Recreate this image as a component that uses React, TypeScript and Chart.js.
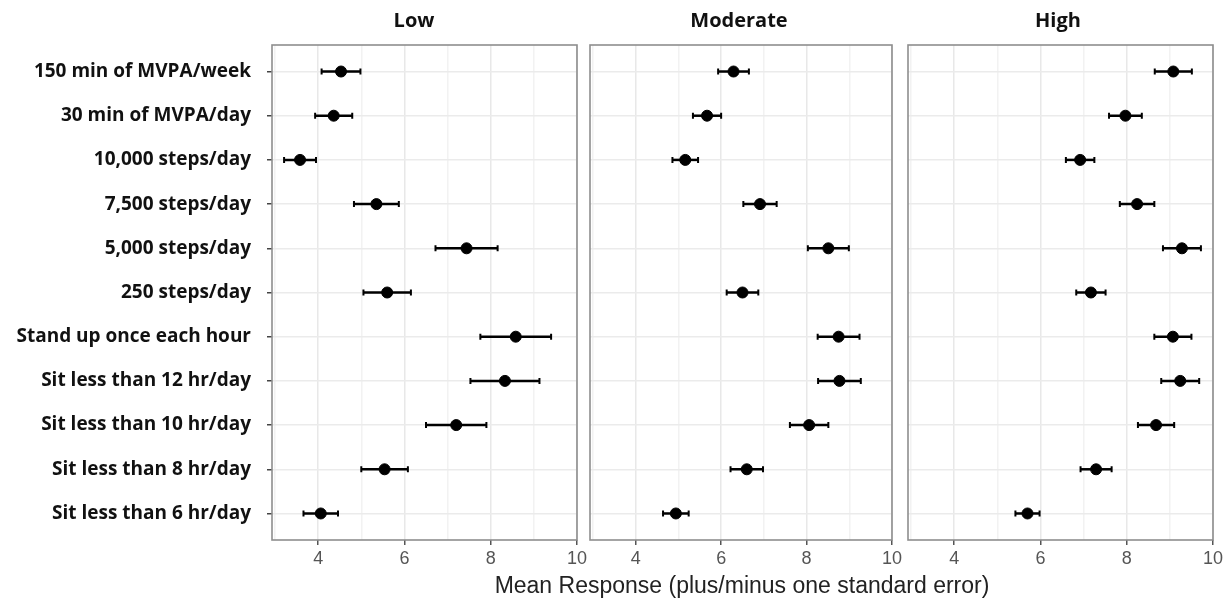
import React, { useEffect, useRef } from 'react';
import { Chart, registerables } from 'chart.js';
Chart.register(...registerables);

const categories = [
  '150 min of MVPA/week',
  '30 min of MVPA/day',
  '10,000 steps/day',
  '7,500 steps/day',
  '5,000 steps/day',
  '250 steps/day',
  'Stand up once each hour',
  'Sit less than 12 hr/day',
  'Sit less than 10 hr/day',
  'Sit less than 8 hr/day',
  'Sit less than 6 hr/day',
];
const panelTitles = ['Low', 'Moderate', 'High'];
const lowMean = [4.53, 4.36, 3.58, 5.35, 7.44, 5.6, 8.58, 8.33, 7.2, 5.54, 4.06];
const lowSE = [0.45, 0.43, 0.37, 0.52, 0.72, 0.55, 0.82, 0.8, 0.7, 0.54, 0.4];
const modMean = [6.29, 5.67, 5.16, 6.91, 8.51, 6.5, 8.75, 8.77, 8.06, 6.6, 4.94];
const modSE = [0.36, 0.33, 0.3, 0.39, 0.48, 0.37, 0.49, 0.5, 0.45, 0.38, 0.3];
const highMean = [9.08, 7.97, 6.92, 8.24, 9.28, 7.17, 9.07, 9.24, 8.68, 7.29, 5.7];
const highSE = [0.43, 0.38, 0.33, 0.4, 0.44, 0.34, 0.43, 0.44, 0.42, 0.36, 0.28];
const xGridValues = [3, 4, 5, 6, 7, 8, 9, 10];
const xLabelValues = [4, 6, 8, 10];
const xAxisTitle = 'Mean Response (plus/minus one standard error)';

const SANS = 'Arial';
const BOLD = "'Open Sans', sans-serif";

const panels = [
  { title: panelTitles[0], mean: lowMean, se: lowSE, left: 0, width: 590, padL: 0, padR: 13, showY: true, titleCx: 414 },
  { title: panelTitles[1], mean: modMean, se: modSE, left: 580, width: 325, padL: 10, padR: 10, showY: false, titleCx: 739 },
  { title: panelTitles[2], mean: highMean, se: highSE, left: 898, width: 329, padL: 10, padR: 14, showY: false, titleCx: 1058 },
];

const errorBarPlugin = {
  id: 'errorBars',
  beforeDatasetsDraw(chart: any) {
    const { ctx, scales } = chart;
    const x = scales.x;
    const y = scales.y;
    const ds = chart.data.datasets[0];
    ctx.save();
    ctx.strokeStyle = '#000';
    ds.data.forEach((p: any) => {
      const x0 = x.getPixelForValue(p.x - p.se);
      const x1 = x.getPixelForValue(p.x + p.se);
      const py = y.getPixelForValue(p.y);
      ctx.lineWidth = 2.5;
      ctx.beginPath();
      ctx.moveTo(x0, py);
      ctx.lineTo(x1, py);
      ctx.stroke();
      ctx.lineWidth = 2;
      ctx.beginPath();
      ctx.moveTo(x0, py - 3);
      ctx.lineTo(x0, py + 3);
      ctx.moveTo(x1, py - 3);
      ctx.lineTo(x1, py + 3);
      ctx.stroke();
    });
    ctx.restore();
  },
};

const borderPlugin = {
  id: 'panelBorder',
  afterDraw(chart: any) {
    const { ctx, chartArea } = chart;
    ctx.save();
    ctx.strokeStyle = '#8e8e8e';
    ctx.lineWidth = 1.6;
    ctx.strokeRect(chartArea.left, chartArea.top, chartArea.right - chartArea.left, chartArea.bottom - chartArea.top);
    ctx.restore();
  },
};

function Panel({ p }: { p: any }) {
  const ref = useRef<HTMLCanvasElement>(null);
  useEffect(() => {
    if (!ref.current) return;
    const data = p.mean.map((m: number, i: number) => ({ x: m, y: i, se: p.se[i] }));
    const chart = new Chart(ref.current, {
      type: 'scatter',
      data: {
        datasets: [
          {
            data,
            backgroundColor: '#000',
            borderColor: '#000',
            pointRadius: 5.5,
            pointHoverRadius: 5.5,
          },
        ],
      },
      plugins: [errorBarPlugin, borderPlugin],
      options: {
        animation: false,
        responsive: false,
        maintainAspectRatio: false,
        events: [],
        layout: { padding: { top: 45, bottom: 0, left: p.padL, right: p.padR } },
        plugins: { legend: { display: false }, tooltip: { enabled: false }, title: { display: false } },
        scales: {
          x: {
            type: 'linear',
            min: 2.93,
            max: 10,
            afterBuildTicks: (s: any) => {
              s.ticks = xGridValues.map((v) => ({ value: v }));
            },
            afterFit: (s: any) => {
              s.height = 61;
            },
            border: { display: false },
            grid: {
              color: (c: any) => (c.tick && c.tick.value % 2 === 0 ? '#e8e8e8' : '#f2f2f2'),
              lineWidth: 1.5,
              tickLength: 5,
              tickColor: (c: any) => (c.tick && xLabelValues.includes(c.tick.value) ? '#555' : 'rgba(0,0,0,0)'),
              tickWidth: 1.5,
            },
            ticks: {
              autoSkip: false,
              maxRotation: 0,
              padding: 3,
              color: '#555',
              font: { family: SANS, size: 18 },
              callback: (v: any) => (xLabelValues.includes(v) ? String(v) : ''),
            },
            title: { display: false },
          },
          y: {
            type: 'linear',
            min: -0.6,
            max: 10.6,
            reverse: true,
            afterBuildTicks: (s: any) => {
              s.ticks = categories.map((_, i) => ({ value: i }));
            },
            afterFit: (s: any) => {
              s.width = p.showY ? 272 : 0;
            },
            border: { display: false },
            grid: {
              color: '#ebebeb',
              lineWidth: 1.5,
              drawTicks: p.showY,
              tickLength: 5,
              tickColor: '#444',
              tickWidth: 1.5,
            },
            ticks: {
              display: p.showY,
              autoSkip: false,
              padding: 16,
              color: '#111',
              font: { family: BOLD, size: 19, weight: 'bold' },
              callback: (v: any) => categories[v] ?? '',
            },
          },
        },
      },
    } as any);
    return () => chart.destroy();
  }, [p]);
  return (
    <canvas
      ref={ref}
      width={p.width}
      height={601}
      style={{ position: 'absolute', left: p.left, top: 0, width: p.width, height: 601 }}
    />
  );
}

export default function App() {
  return (
    <div style={{ position: 'fixed', left: 0, top: 0, width: 1227, height: 601, background: '#fff', overflow: 'hidden' }}>
      {panels.map((p) => (
        <Panel key={p.title} p={p} />
      ))}
      {panels.map((p) => (
        <div
          key={'t' + p.title}
          style={{
            position: 'absolute',
            left: p.titleCx - 100,
            width: 200,
            top: 6,
            textAlign: 'center',
            fontFamily: BOLD,
            fontWeight: 'bold',
            fontSize: 20,
            color: '#111',
            lineHeight: '28px',
          }}
        >
          {p.title}
        </div>
      ))}
      <div
        style={{
          position: 'absolute',
          left: 742 - 300,
          width: 600,
          top: 572,
          textAlign: 'center',
          fontFamily: SANS,
          fontSize: 23,
          color: '#222',
          lineHeight: '26px',
          whiteSpace: 'nowrap',
        }}
      >
        {xAxisTitle}
      </div>
    </div>
  );
}
